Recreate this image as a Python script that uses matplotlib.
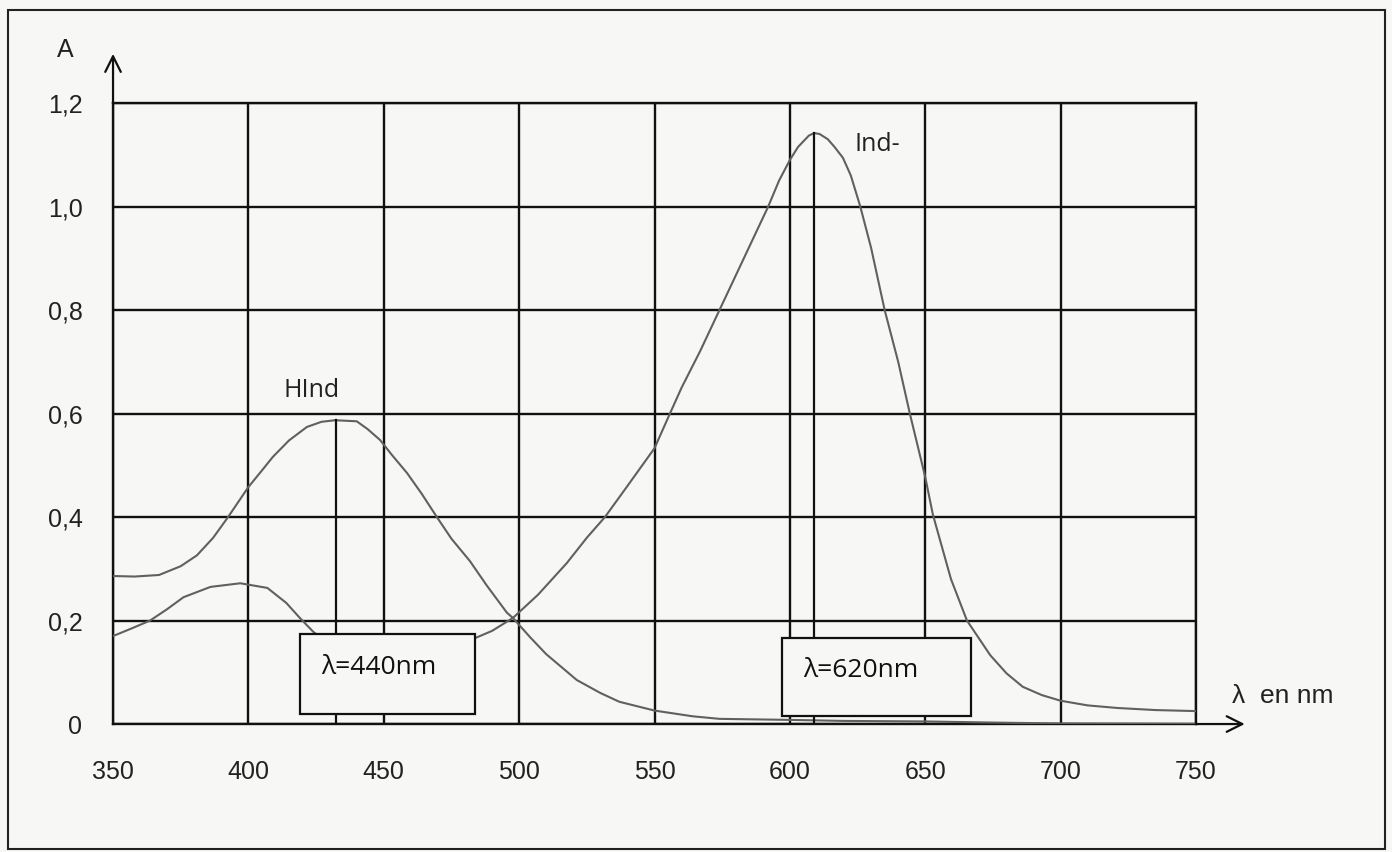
import matplotlib
matplotlib.use("Agg")
import matplotlib.pyplot as plt
from matplotlib.patches import Rectangle

# Absorption spectra
hind_wl = [350, 358, 367, 375, 381, 387, 392.5, 400, 405, 409, 415, 421.6, 427,
           432, 440, 444, 448.6, 453, 458.6, 464, 469.6, 475, 481.8, 488, 495.5,
           497.7, 504, 510, 521.3, 530, 537, 550, 564, 574, 600, 620, 650, 673,
           700, 750]
hind_abs = [0.286, 0.285, 0.288, 0.305, 0.326, 0.36, 0.40, 0.458, 0.49, 0.516,
            0.548, 0.574, 0.584, 0.587, 0.585, 0.57, 0.549, 0.52, 0.485, 0.445,
            0.40, 0.358, 0.315, 0.268, 0.215, 0.205, 0.168, 0.135, 0.085, 0.06,
            0.043, 0.026, 0.015, 0.01, 0.008, 0.006, 0.005, 0.003, 0.001, 0.0]

ind_wl = [350, 357, 363.7, 370, 376, 386, 397, 407, 414, 419, 424, 430, 440,
          450, 460, 470, 478, 483.7, 490, 497.7, 507, 517.6, 525, 531.7, 540,
          550, 555.7, 560, 566.8, 574, 583, 592, 596, 600, 603, 607, 609, 611,
          614, 616.5, 619.6, 622.5, 626, 630, 635, 640, 644.3, 650, 652.8, 659.5,
          665.4, 674, 680, 686, 693, 700, 710, 721, 735, 750]
ind_abs = [0.17, 0.185, 0.20, 0.222, 0.245, 0.265, 0.272, 0.263, 0.234, 0.205,
           0.178, 0.155, 0.14, 0.135, 0.138, 0.148, 0.158, 0.166, 0.18, 0.205,
           0.25, 0.311, 0.36, 0.40, 0.46, 0.533, 0.60, 0.65, 0.72, 0.80, 0.90,
           1.00, 1.05, 1.09, 1.115, 1.137, 1.142, 1.14, 1.13, 1.115, 1.094, 1.06,
           1.00, 0.92, 0.80, 0.70, 0.60, 0.477, 0.405, 0.28, 0.20, 0.133, 0.098,
           0.072, 0.056, 0.045, 0.036, 0.031, 0.027, 0.025]

peak_wl = [432.5, 609]
peak_abs = [0.587, 1.142]

x_ticks = [350, 400, 450, 500, 550, 600, 650, 700, 750]
y_ticks = [0, 0.2, 0.4, 0.6, 0.8, 1.0, 1.2]
y_labels = ["0", "0,2", "0,4", "0,6", "0,8", "1,0", "1,2"]

bg = "#f7f7f5"
ink = "#111111"
curve = "#606060"

fig = plt.figure(figsize=(13.92, 8.52), dpi=100, facecolor=bg)
ax = fig.add_axes([0.0812, 0.1502, 0.778, 0.7289], facecolor=bg)

ax.plot(hind_wl, hind_abs, color=curve, lw=1.5, zorder=3)
ax.plot(ind_wl, ind_abs, color=curve, lw=1.5, zorder=3)

# vertical lines at the maxima
for wl, a in zip(peak_wl, peak_abs):
    ax.plot([wl, wl], [0, a], color=ink, lw=1.6, zorder=3)

ax.set_xlim(350, 750)
ax.set_ylim(0, 1.2)
ax.set_xticks(x_ticks)
ax.set_yticks(y_ticks)
ax.set_yticklabels(y_labels)
ax.grid(True, color=ink, lw=1.7)
ax.set_axisbelow(True)
for s in ax.spines.values():
    s.set_color(ink)
    s.set_linewidth(1.7)
ax.tick_params(length=0, labelsize=18, colors="#222222")
ax.tick_params(axis="y", pad=22)
ax.tick_params(axis="x", pad=26)
for lab in ax.get_xticklabels() + ax.get_yticklabels():
    lab.set_fontfamily("Liberation Sans")

# axis arrows
arrow = dict(arrowstyle="->", lw=1.6, color=ink, mutation_scale=28,
             shrinkA=0, shrinkB=0)
ax.annotate("", xy=(350, 1.295), xytext=(350, 1.2), arrowprops=arrow,
            annotation_clip=False)
ax.annotate("", xy=(768, 0), xytext=(750, 0), arrowprops=arrow,
            annotation_clip=False)
ax.text(-0.044, 1.085, "A", transform=ax.transAxes, fontsize=18,
        family="Liberation Sans", ha="center", va="center", color="#222222")
ax.text(1.033, 0.045, "λ  en nm", transform=ax.transAxes, fontsize=19,
        family="Liberation Sans", ha="left", va="center", color="#222222")

# curve names
ax.text(412.8, 0.645, "HInd", fontsize=18, family=["Open Sans", "DejaVu Sans"],
        ha="left", va="center", color="#222222")
ax.text(624, 1.12, "Ind-", fontsize=18, family=["Open Sans", "DejaVu Sans"],
        ha="left", va="center", color="#222222")

# wavelength boxes
boxes = [(419, 0.019, 64.7, 0.155, "λ=440nm"),
         (597, 0.016, 69.8, 0.150, "λ=620nm")]
for x0, y0, w, h, txt in boxes:
    ax.add_patch(Rectangle((x0, y0), w, h, facecolor=bg, edgecolor=ink,
                           lw=1.6, zorder=5))
    ax.text(x0 + 7.8, y0 + h * 0.58, txt, fontsize=19,
            family=["Open Sans", "DejaVu Sans"], ha="left", va="center",
            color="#111111", zorder=6)

# outer frame of the scanned figure
fig.add_artist(Rectangle((0.0057, 0.003), 0.9893, 0.985, transform=fig.transFigure,
                         fill=False, edgecolor="#222222", lw=1.5))

fig.savefig("out.png", dpi=100, facecolor=bg)
